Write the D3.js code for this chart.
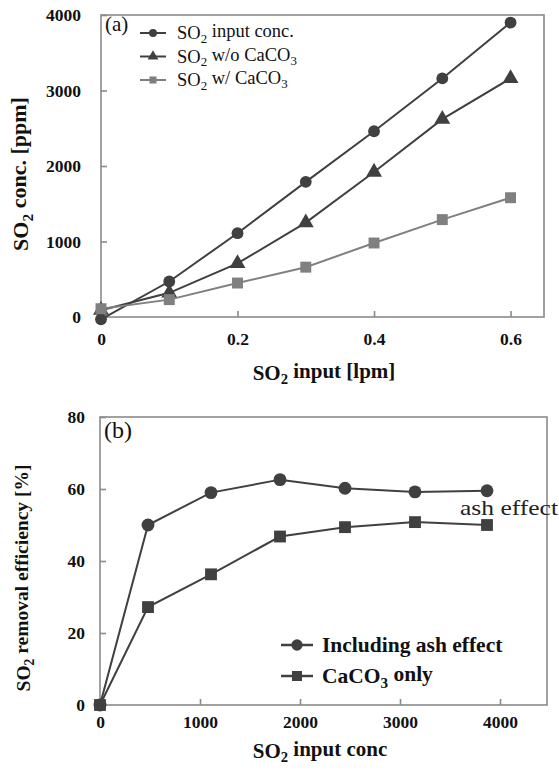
<!DOCTYPE html>
<html>
<head>
<meta charset="utf-8">
<script src="https://cdn.jsdelivr.net/npm/d3@7"></script>
<style>
  body { margin: 0; background: #fff; }
</style>
</head>
<body>
<div id="chart"></div>
<script>
// Panel (a) data
const flowLpm = [0, 0.1, 0.2, 0.3, 0.4, 0.5, 0.6];
const so2Input = [-30, 470, 1110, 1790, 2460, 3160, 3900];
const so2NoCaco3 = [90, 320, 710, 1250, 1920, 2620, 3160];
const so2WithCaco3 = [110, 230, 450, 660, 980, 1290, 1580];
const ticksA_x = [0, 0.2, 0.4, 0.6];
const ticksA_y = [0, 1000, 2000, 3000, 4000];

// Panel (b) data
const inputConc = [0, 480, 1110, 1800, 2450, 3150, 3870];
const effAsh = [0, 50, 59, 62.6, 60.2, 59.2, 59.5];
const effCaco3 = [0, 27.2, 36.3, 46.8, 49.4, 50.8, 50];
const ticksB_x = [0, 1000, 2000, 3000, 4000];
const ticksB_y = [0, 20, 40, 60, 80];

const W = 559, H = 771;
const FONT = "'Liberation Serif', 'Times New Roman', serif";
const svg = d3.select("#chart").append("svg")
    .attr("width", W).attr("height", H)
    .style("font-family", FONT);

const dark = "#404040", light = "#808080", frame = "#8a8a8a";

function sub(sel, parts) {
    // parts: text, subscript, text, (subscript)
    parts.forEach((p, i) => {
        if (!p) return;
        const t = sel.append("tspan").text(p);
        if (i % 2 === 1) t.style("font-size", "0.7em").attr("dy", "0.3em");
        else if (i > 0) t.attr("dy", "-0.3em");
    });
}

function drawPanel(o) {
    const g = svg.append("g");
    const x = d3.scaleLinear().domain(o.xDomain).range([o.left, o.right]);
    const y = d3.scaleLinear().domain(o.yDomain).range([o.bottom, o.top]);

    g.append("rect")
        .attr("x", o.left).attr("y", o.top)
        .attr("width", o.right - o.left).attr("height", o.bottom - o.top)
        .attr("fill", "none").attr("stroke", frame).attr("stroke-width", 1.6);

    const xa = g.append("g")
        .attr("transform", `translate(0,${o.bottom})`)
        .call(d3.axisBottom(x).tickValues(o.xTicks).tickSizeInner(-6).tickSizeOuter(0)
            .tickPadding(o.xPad).tickFormat(o.xFmt));
    const ya = g.append("g")
        .attr("transform", `translate(${o.left},0)`)
        .call(d3.axisLeft(y).tickValues(o.yTicks).tickSizeInner(-6).tickSizeOuter(0)
            .tickPadding(o.yPad).tickFormat(d3.format("d")));
    [xa, ya].forEach(a => {
        a.attr("font-family", null).attr("font-size", null);
        a.select(".domain").remove();
        a.selectAll("line").attr("stroke", frame).attr("stroke-width", 1.6);
        a.selectAll("text").style("font-family", FONT).style("font-weight", "bold")
            .style("font-size", "17.5px").attr("fill", "#111");
    });

    o.series.forEach(s => {
        const pts = o.xs.map((v, i) => [x(v), y(s.values[i])]);
        g.append("path")
            .attr("d", d3.line()(pts))
            .attr("fill", "none").attr("stroke", s.color).attr("stroke-width", 2);
        g.selectAll(null).data(pts).enter().append("path")
            .attr("transform", d => `translate(${d[0]},${d[1]})`)
            .attr("d", d3.symbol().type(s.symbol).size(s.size))
            .attr("fill", s.color);
    });

    g.append("text").attr("x", o.left + 4).attr("y", o.labelY)
        .style("font-family", FONT).style("font-size", o.labelSize + "px")
        .attr("fill", "#111").text(o.label);

    const xt = g.append("text").attr("x", o.xTitleX).attr("y", o.xTitleY)
        .attr("text-anchor", "middle").style("font-family", FONT)
        .style("font-weight", "bold").style("font-size", "21px").attr("fill", "#111");
    sub(xt, o.xTitle);
    const yt = g.append("text")
        .attr("transform", `translate(${o.yTitleX},${o.yTitleY}) rotate(-90)`)
        .attr("text-anchor", "middle").style("font-family", FONT)
        .style("font-weight", "bold").style("font-size", o.yTitleSize + "px").attr("fill", "#111");
    sub(yt, o.yTitle);
    return g;
}

// Panel (a)
const seriesA = [
    {name: ["SO", "2", " input conc."], values: so2Input, symbol: d3.symbolCircle, size: 110, color: dark},
    {name: ["SO", "2", " w/o CaCO", "3"], values: so2NoCaco3, symbol: d3.symbolTriangle, size: 110, color: dark},
    {name: ["SO", "2", " w/ CaCO", "3"], values: so2WithCaco3, symbol: d3.symbolSquare, size: 120, color: light}
];
const gA = drawPanel({
    left: 101, right: 544, top: 15, bottom: 317,
    xDomain: [0, 0.649], yDomain: [0, 4000],
    xTicks: ticksA_x, yTicks: ticksA_y, xPad: 16, yPad: 20,
    xFmt: d => d === 0 ? "0" : d3.format(".1f")(d),
    xs: flowLpm, series: seriesA, label: "(a)", labelY: 31, labelSize: 21,
    xTitle: ["SO", "2", " input [lpm]"], xTitleX: 324, xTitleY: 380,
    yTitle: ["SO", "2", " conc. [ppm]"], yTitleX: 28, yTitleY: 174, yTitleSize: 22
});
seriesA.forEach((s, i) => {
    const yy = 33 + i * 23.5;
    gA.append("line").attr("x1", 140).attr("x2", 166).attr("y1", yy).attr("y2", yy)
        .attr("stroke", s.color).attr("stroke-width", 2);
    gA.append("path").attr("transform", `translate(153,${yy})`)
        .attr("d", d3.symbol().type(s.symbol).size(50)).attr("fill", s.color);
    const t = gA.append("text").attr("x", 177).attr("y", yy + 6)
        .style("font-family", FONT).style("font-size", "18.5px").attr("fill", "#111");
    sub(t, s.name);
});

// Panel (b)
const seriesB = [
    {name: ["Including ash effect"], values: effAsh, symbol: d3.symbolCircle, size: 130, color: dark},
    {name: ["CaCO", "3", " only"], values: effCaco3, symbol: d3.symbolSquare, size: 140, color: dark}
];
const gB = drawPanel({
    left: 100, right: 547, top: 417, bottom: 705,
    xDomain: [0, 4470], yDomain: [0, 80],
    xTicks: ticksB_x, yTicks: ticksB_y, xPad: 11, yPad: 15,
    xFmt: d3.format("d"),
    xs: inputConc, series: seriesB, label: "(b)", labelY: 438, labelSize: 24,
    xTitle: ["SO", "2", " input conc"], xTitleX: 320, xTitleY: 758,
    yTitle: ["SO", "2", " removal efficiency [%]"], yTitleX: 30, yTitleY: 578, yTitleSize: 19.5
});
seriesB.forEach((s, i) => {
    const yy = 645 + i * 31;
    gB.append("line").attr("x1", 281).attr("x2", 313).attr("y1", yy).attr("y2", yy)
        .attr("stroke", s.color).attr("stroke-width", 2.5);
    gB.append("path").attr("transform", `translate(297,${yy})`)
        .attr("d", d3.symbol().type(s.symbol).size(100)).attr("fill", s.color);
    const t = gB.append("text").attr("x", 322).attr("y", yy + 7)
        .style("font-family", FONT).style("font-size", "21.5px").style("font-weight", "bold")
        .attr("fill", "#111");
    sub(t, s.name);
});
gB.append("text").attr("x", 460).attr("y", 515)
    .attr("textLength", 98).attr("lengthAdjust", "spacingAndGlyphs")
    .style("font-family", FONT).style("font-size", "21px").attr("fill", "#222")
    .text("ash effect");
</script>
</body>
</html>
